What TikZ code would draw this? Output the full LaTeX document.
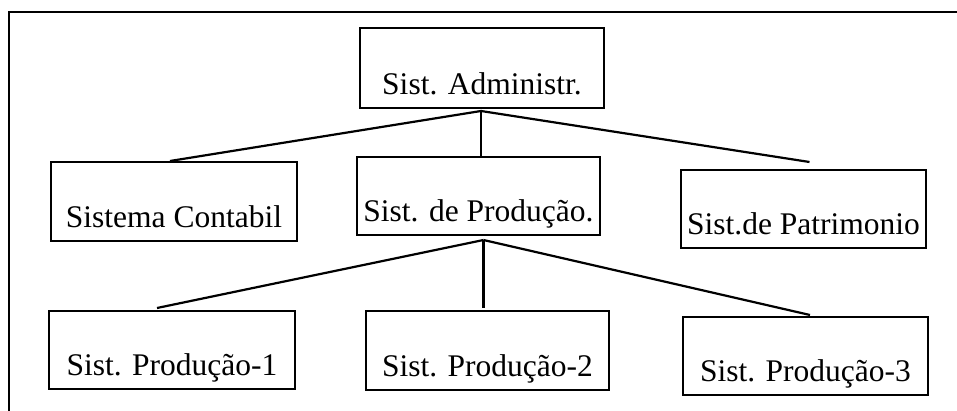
\documentclass[tikz,border=0pt]{standalone}
\usepackage{fontspec}
\setmainfont{Liberation Serif}
\usetikzlibrary{calc}
\begin{document}
\begin{tikzpicture}[x=1pt,y=-1pt,
  box/.style={draw,line width=2pt,rectangle,inner sep=0pt,
    font=\fontsize{31.5}{36}\selectfont,
    text depth=13.5pt,text height=#1pt-13.5pt},
  link/.style={line width=2.2pt}]
\useasboundingbox (0,0) rectangle (957,411);
% open frame: only the top and left edges
\draw[line width=2.2pt] (957,12) -- (9,12) -- (9,411);

% tree of systems
\node[box=80,minimum width=244pt] (adm)  at (482,68)    {Sist. Administr.};
\node[box=79,minimum width=246pt] (cont) at (174,201.5) {Sistema Contabil};
\node[box=78,minimum width=243pt] (prod) at (478.5,196) {Sist. de Produção.};
\node[box=78,minimum width=245pt] (patr) at (803.5,209) {Sist.de Patrimonio};
\node[box=78,minimum width=246pt] (p1)   at (172,350)   {Sist. Produção-1};
\node[box=79,minimum width=243pt] (p2)   at (487.5,350.5) {Sist. Produção-2};
\node[box=78,minimum width=245pt] (p3)   at (805.5,356) {Sist. Produção-3};

% branching points and the free end above the right box
\coordinate (ja) at ($(adm.south)+(-1,2)$);
\coordinate (jp) at ($(prod.south)+(5,4)$);
\coordinate (pa) at ($(patr.north)+(6,-7)$);

\draw[link] (ja) -- (cont.north -| 170,0);
\draw[link] (ja) -- (ja |- prod.north);
\draw[link] (ja) -- (pa);

\draw[link] (jp) -- ($(p1.north -| 157,0)+(0,-2)$);
\draw[link] (jp) -- ($(jp |- p2.north)+(0,-2)$);
\draw[link] (jp) -- ($(p3.north -| 810,0)+(0,-1)$);
\end{tikzpicture}
\end{document}
